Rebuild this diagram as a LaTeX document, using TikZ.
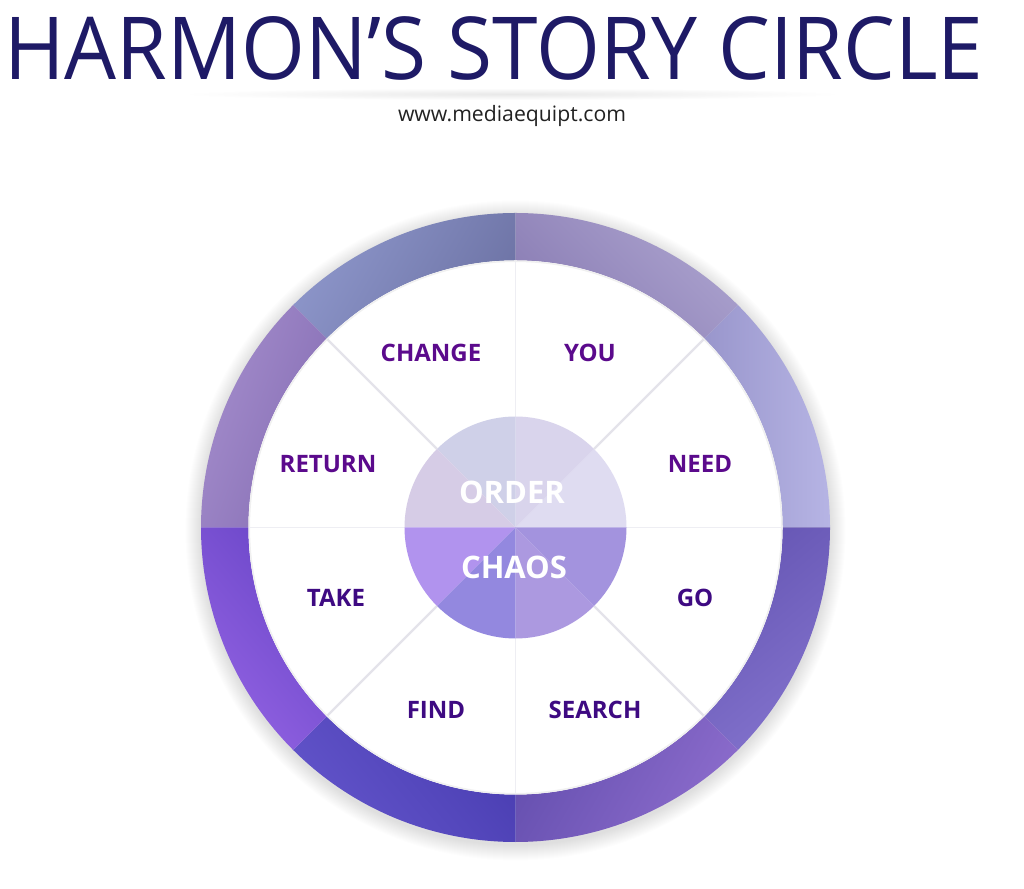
\documentclass[tikz,border=0pt]{standalone}
\usepackage{fontspec}
\setmainfont{Open Sans}
\definecolor{titlec}{HTML}{1E1A66}
\definecolor{subc}{HTML}{222222}
\definecolor{labtop}{HTML}{5B0A8C}
\definecolor{labbot}{HTML}{3E0A82}
\definecolor{spokec}{HTML}{E4E3EA}
\definecolor{spokef}{HTML}{EEEEF3}
% ring colours (light, dark)
\definecolor{rA1}{HTML}{8D96CA}\definecolor{rA2}{HTML}{6E74A6}
\definecolor{rB1}{HTML}{A48DCC}\definecolor{rB2}{HTML}{866EB4}
\definecolor{rC1}{HTML}{ABA2CE}\definecolor{rC2}{HTML}{8A7DB4}
\definecolor{rD1}{HTML}{B6B4E4}\definecolor{rD2}{HTML}{9996CC}
\definecolor{rE1}{HTML}{8272CC}\definecolor{rE2}{HTML}{6656B4}
\definecolor{rF1}{HTML}{8C6CCC}\definecolor{rF2}{HTML}{6650B0}
\definecolor{rG1}{HTML}{6254CA}\definecolor{rG2}{HTML}{4A3EB2}
\definecolor{rH1}{HTML}{9262E2}\definecolor{rH2}{HTML}{6A46C8}
% core colours
\definecolor{k1}{HTML}{DFDCF1}\definecolor{k2}{HTML}{D9D4EC}
\definecolor{k3}{HTML}{CFD0E8}\definecolor{k4}{HTML}{D6CCE6}
\definecolor{k5}{HTML}{B193EE}\definecolor{k6}{HTML}{9388DF}
\definecolor{k7}{HTML}{AC99E0}\definecolor{k8}{HTML}{A393DE}
\begin{document}
\begin{tikzpicture}[x=1pt,y=1pt,
  lbl/.style={font=\fontsize{24}{28}\selectfont\bfseries, inner sep=0},
  lbltop/.style={lbl, text=labtop},
  lblbot/.style={lbl, text=labbot},
  corelbl/.style={font=\fontsize{31}{36}\selectfont\bfseries, text=white, inner sep=0},
  spoke/.style={draw=spokec, line width=2.2pt},
  spokefaint/.style={draw=spokef, line width=1.5pt},
]
\useasboundingbox (0,0) rectangle (1024,888);
\fill[white] (0,0) rectangle (1024,888);

% title
\node[anchor=base west, inner sep=0, text=titlec] (title) at (4,808)
  {\resizebox{979pt}{63pt}{HARMON’S STORY CIRCLE}};
\shade[inner color=black!9, outer color=white] (512,794) ellipse (330 and 6);
\node[anchor=base, inner sep=0, text=subc] (sub) at (512,766)
  {\resizebox{228pt}{!}{www.mediaequipt.com}};

\coordinate (C) at (515.5,360.5);

% soft shadow
\foreach \k in {1,...,16}
  \fill[black, opacity=0.009] ([yshift=-3pt]C) circle (314+\k);

% ring segments (light colour placed at direction theta+90)
\foreach \a/\ca/\cb/\th [evaluate=\a as \b using int(\a+45)] in
  {90/rA1/rA2/60, 135/rB1/rB2/70, 45/rC1/rC2/-45, 0/rD1/rD2/-90,
   -45/rE1/rE2/-140, -90/rF1/rF2/-120, -135/rG1/rG2/130, 180/rH1/rH2/130}
  \shade[left color=\ca, right color=\cb, shading angle=\th]
    ([shift={(\a:314.5)}]C) arc[start angle=\a, end angle=\b, radius=314.5]
    -- ([shift={(\b:267)}]C) arc[start angle=\b, end angle=\a, radius=267] -- cycle;

% white disc with faint inner shadow
\fill[white] (C) circle (267);
\draw[black!6, line width=1.5pt] (C) circle (266.2);

% spokes
\foreach \a in {45,135,225,315}
  \draw[spoke] ([shift={(\a:111)}]C) -- ([shift={(\a:266)}]C);
\foreach \a in {0,90,180,270}
  \draw[spokefaint] ([shift={(\a:111)}]C) -- ([shift={(\a:266)}]C);

% core circle
\foreach \a/\c in {0/k1,45/k2,90/k3,135/k4,180/k5,225/k6,270/k7,315/k8}
  \fill[\c] (C) -- ([shift={(\a:111)}]C) arc[start angle=\a, delta angle=45, radius=111] -- cycle;

\node[corelbl] (order) at (512,396) {ORDER};
\node[corelbl] (chaos) at (514,321) {CHAOS};

% labels
\node[lbltop] (change) at (431,535) {CHANGE};
\node[lbltop] (you) at (590,535) {YOU};
\node[lbltop] (return) at (328,424) {RETURN};
\node[lbltop] (need) at (700,424) {NEED};
\node[lblbot] (take) at (336,290) {TAKE};
\node[lblbot] (go) at (695,290) {GO};
\node[lblbot] (find) at (436,178) {FIND};
\node[lblbot] (search) at (595,178) {SEARCH};
\end{tikzpicture}
\end{document}
